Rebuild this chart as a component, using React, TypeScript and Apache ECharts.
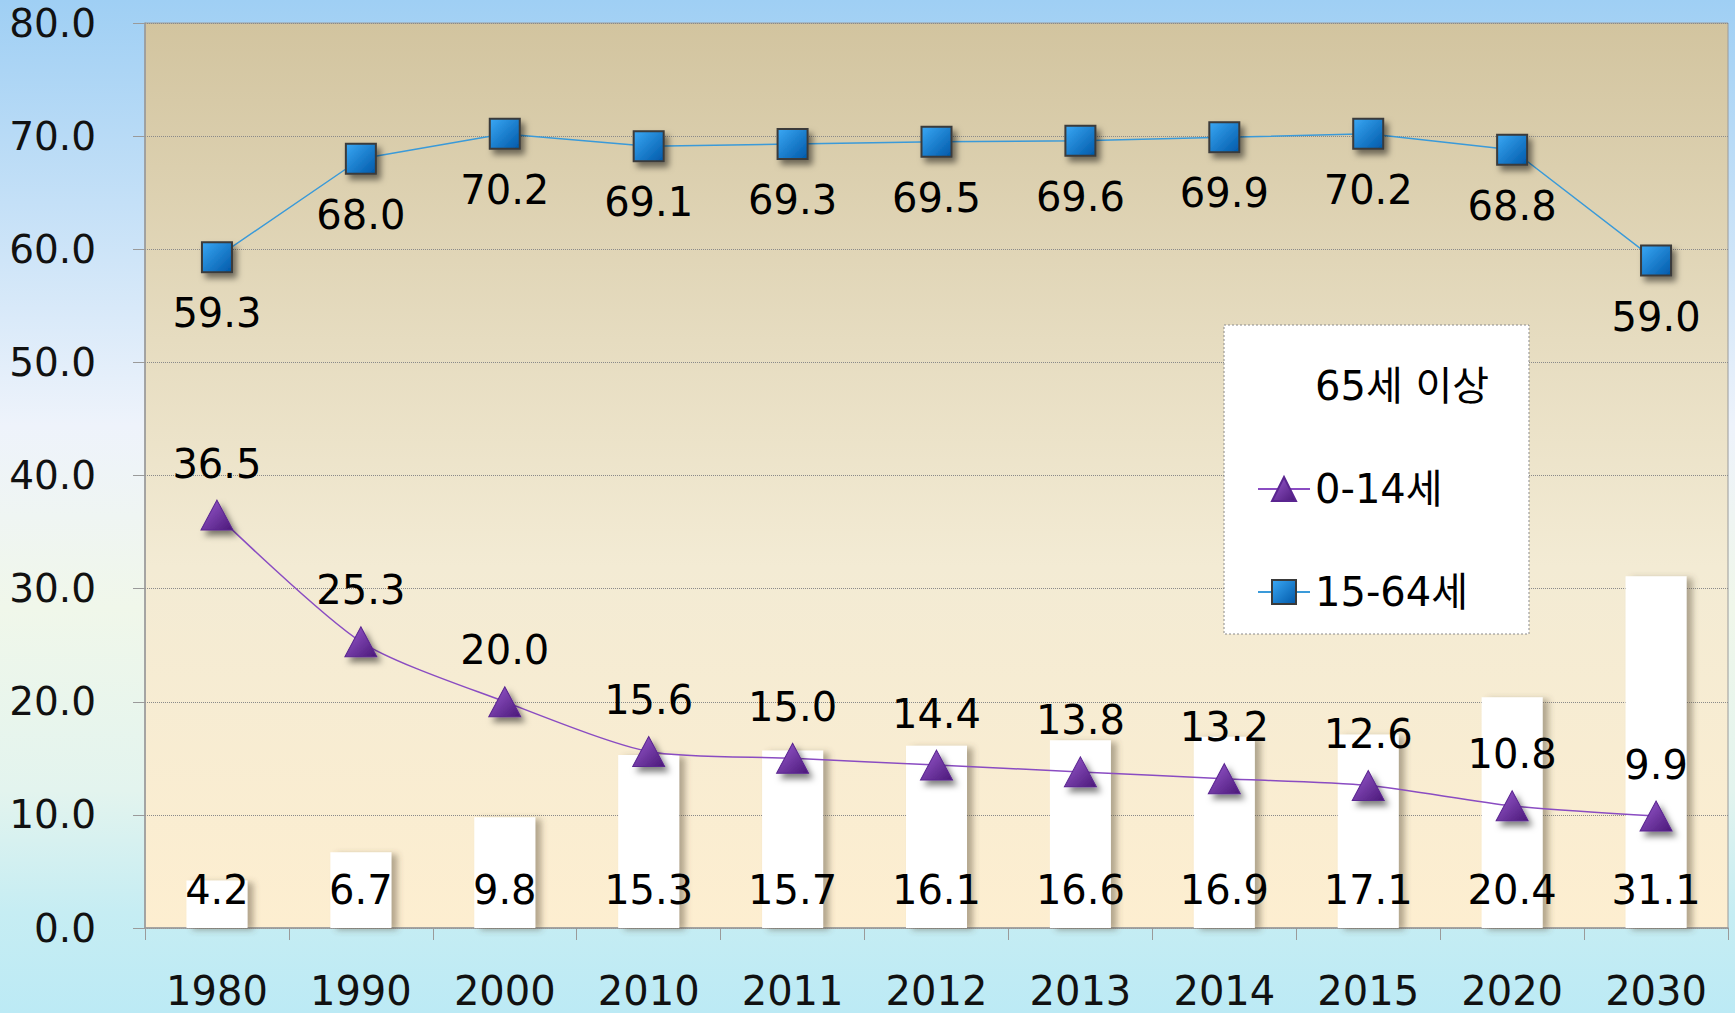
import React, { useEffect, useRef } from "react";
import * as echarts from "echarts";

const categories = ["1980", "1990", "2000", "2010", "2011", "2012", "2013", "2014", "2015", "2020", "2030"];
const elderly = [4.2, 6.7, 9.8, 15.3, 15.7, 16.1, 16.6, 16.9, 17.1, 20.4, 31.1];
const children = [36.5, 25.3, 20.0, 15.6, 15.0, 14.4, 13.8, 13.2, 12.6, 10.8, 9.9];
const working = [59.3, 68.0, 70.2, 69.1, 69.3, 69.5, 69.6, 69.9, 70.2, 68.8, 59.0];
const seriesNames = ["65세 이상", "0-14세", "15-64세"];

const FONT = "'DejaVu Sans', 'Noto Sans CJK KR', sans-serif";
const fmt = (p: any) => Number(p.value).toFixed(1);

export default function App() {
  const ref = useRef<HTMLDivElement>(null);
  useEffect(() => {
    if (!ref.current) return;
    const chart = echarts.init(ref.current, undefined, { renderer: "svg" });
    const labelText = { fontFamily: FONT, fontSize: 40, color: "#000" };
    chart.setOption({
      animation: false,
      textStyle: { fontFamily: FONT },
      grid: {
        left: 145,
        right: 7,
        top: 23,
        bottom: 85,
        show: true,
        borderColor: "#9a9a9a",
        borderWidth: 1,
        backgroundColor: new echarts.graphic.LinearGradient(0, 0, 0, 1, [
          { offset: 0, color: "#D2C49F" },
          { offset: 0.35, color: "#E6DCC0" },
          { offset: 0.6, color: "#F3EBD4" },
          { offset: 1, color: "#FDEED0" },
        ]),
      },
      graphic: [
        {
          type: "rect",
          z: 3,
          shape: { x: 1224, y: 325, width: 305, height: 309 },
          style: { fill: "#ffffff", stroke: "#8a8a8a", lineWidth: 1, lineDash: [2, 2] },
        },
      ],
      legend: {
        orient: "vertical",
        left: 1257,
        top: 366,
        padding: 0,
        itemGap: 63,
        itemWidth: 52,
        itemHeight: 30,
        z: 5,
        textStyle: { fontFamily: FONT, fontSize: 40, lineHeight: 40, color: "#000" },
        data: [
          { name: seriesNames[0], itemStyle: { opacity: 0 } },
          { name: seriesNames[1] },
          { name: seriesNames[2] },
        ],
      },
      xAxis: {
        type: "category",
        data: categories,
        axisLine: { show: true, lineStyle: { color: "#9a9a9a", width: 1.5 } },
        axisTick: { show: true, length: 12, lineStyle: { color: "#9a9a9a" } },
        axisLabel: { margin: 46, fontFamily: FONT, fontSize: 40, lineHeight: 34, color: "#111" },
        splitLine: { show: false },
      },
      yAxis: {
        type: "value",
        min: 0,
        max: 80,
        interval: 10,
        axisLine: { show: true, lineStyle: { color: "#9a9a9a", width: 1.5 } },
        axisTick: { show: true, length: 12, lineStyle: { color: "#9a9a9a" } },
        axisLabel: {
          margin: 49,
          fontFamily: FONT,
          fontSize: 39,
          color: "#111",
          formatter: (v: number) => v.toFixed(1),
        },
        splitLine: { show: true, lineStyle: { color: "#8a8a8a", type: "dotted", width: 1 } },
      },
      series: [
        {
          name: seriesNames[0],
          type: "bar",
          data: elderly,
          barWidth: 61,
          z: 1,
          itemStyle: {
            color: "#ffffff",
            shadowColor: "rgba(90,80,60,0.45)",
            shadowBlur: 6,
            shadowOffsetX: 6,
            shadowOffsetY: 2,
          },
          label: {
            show: true,
            position: "insideBottom",
            distance: 18,
            formatter: fmt,
            ...labelText,
          },
        },
        {
          name: seriesNames[1],
          type: "line",
          data: children,
          smooth: 0.25,
          symbol: "triangle",
          symbolSize: [32, 30],
          z: 3,
          lineStyle: { color: "#8A4CC2", width: 1.5 },
          itemStyle: {
            color: new echarts.graphic.LinearGradient(0, 0, 1, 1, [
              { offset: 0, color: "#9A5BD0" },
              { offset: 1, color: "#4A1878" },
            ]),
            borderColor: "#5A2590",
            borderWidth: 1,
            shadowColor: "rgba(0,0,0,0.5)",
            shadowBlur: 6,
            shadowOffsetX: 4,
            shadowOffsetY: 5,
          },
          label: { show: true, position: "top", distance: 16, formatter: fmt, ...labelText },
        },
        {
          name: seriesNames[2],
          type: "line",
          data: working,
          symbol: "rect",
          symbolSize: 30,
          z: 3,
          lineStyle: { color: "#3A9AD9", width: 1.5 },
          itemStyle: {
            color: new echarts.graphic.LinearGradient(0, 0, 1, 1, [
              { offset: 0, color: "#3AA8F5" },
              { offset: 1, color: "#0058A8" },
            ]),
            borderColor: "#3a3a3a",
            borderWidth: 2,
            shadowColor: "rgba(0,0,0,0.5)",
            shadowBlur: 6,
            shadowOffsetX: 4,
            shadowOffsetY: 5,
          },
          label: { show: true, position: "bottom", distance: 20, formatter: fmt, ...labelText },
        },
      ],
    });
    return () => chart.dispose();
  }, []);

  return (
    <div
      style={{
        position: "absolute",
        left: 0,
        top: 0,
        width: 1735,
        height: 1013,
        background:
          "linear-gradient(180deg, #9FCFF4 0%, #C4E0F7 20%, #EEF3FB 42%, #F0F7EA 60%, #E3F4EE 78%, #C6EDF3 90%, #BCEAF5 100%)",
      }}
    >
      <div ref={ref} style={{ width: 1735, height: 1013 }} />
    </div>
  );
}
